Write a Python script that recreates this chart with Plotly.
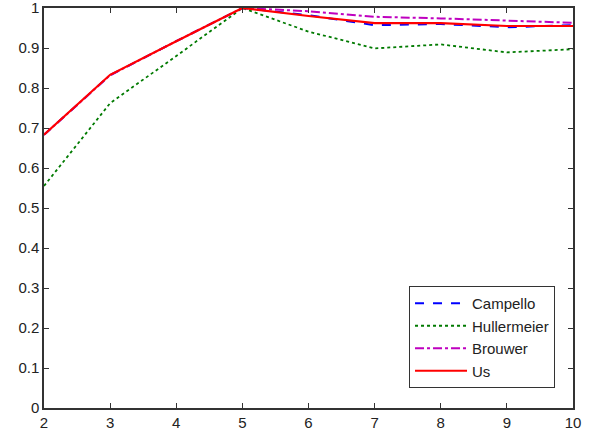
import plotly.graph_objects as go

x = [2, 3, 4, 5, 6, 7, 8, 9, 10]
campello = [0.683, 0.832, 0.917, 1.0, 0.982, 0.957, 0.960, 0.952, 0.957]
hullermeier = [0.555, 0.762, 0.880, 1.0, 0.941, 0.899, 0.909, 0.889, 0.897]
brouwer = [0.683, 0.832, 0.917, 1.0, 0.992, 0.978, 0.974, 0.968, 0.963]
us = [0.683, 0.833, 0.917, 1.0, 0.980, 0.962, 0.962, 0.955, 0.955]

x_ticks = [2, 3, 4, 5, 6, 7, 8, 9, 10]
y_ticks = [0, 0.1, 0.2, 0.3, 0.4, 0.5, 0.6, 0.7, 0.8, 0.9, 1]
y_labels = ["0", "0.1", "0.2", "0.3", "0.4", "0.5", "0.6", "0.7", "0.8", "0.9", "1"]

fig = go.Figure()
fig.add_trace(go.Scatter(x=x, y=campello, name="Campello", mode="lines",
                         line=dict(color="#0000ff", width=2, dash="dash")))
fig.add_trace(go.Scatter(x=x, y=hullermeier, name="Hullermeier", mode="lines",
                         line=dict(color="#007a00", width=1.8, dash="dot")))
fig.add_trace(go.Scatter(x=x, y=brouwer, name="Brouwer", mode="lines",
                         line=dict(color="#bf00bf", width=2, dash="dashdot")))
fig.add_trace(go.Scatter(x=x, y=us, name="Us", mode="lines",
                         line=dict(color="#ff0000", width=2.2)))

axis_common = dict(showgrid=False, zeroline=False, showline=True, linecolor="#333333",
                   linewidth=1.5, mirror="ticks", ticks="inside", ticklen=5,
                   tickcolor="#333333", automargin=False, ticklabeloverflow="allow",
                   tickfont=dict(family="Liberation Sans, Arial", size=15, color="#222222"))

fig.update_layout(
    width=597, height=431,
    margin=dict(l=44, r=24, t=8, b=23, autoexpand=False),
    paper_bgcolor="white", plot_bgcolor="white",
    xaxis=dict(range=[2, 10], tickvals=x_ticks, ticktext=[str(v) for v in x_ticks], **axis_common),
    yaxis=dict(range=[0, 1], tickvals=y_ticks, ticktext=y_labels, **axis_common),
    legend=dict(x=0.966, y=0.05, xanchor="right", yanchor="bottom",
                bordercolor="#333333", borderwidth=1, bgcolor="white",
                font=dict(family="Liberation Sans, Arial", size=15, color="#222222"),
                tracegroupgap=0, itemwidth=52),
    showlegend=True,
)

fig.write_html("out.html", config={"displayModeBar": False},
               post_script="document.body.style.margin='0';document.body.style.overflow='hidden';")
